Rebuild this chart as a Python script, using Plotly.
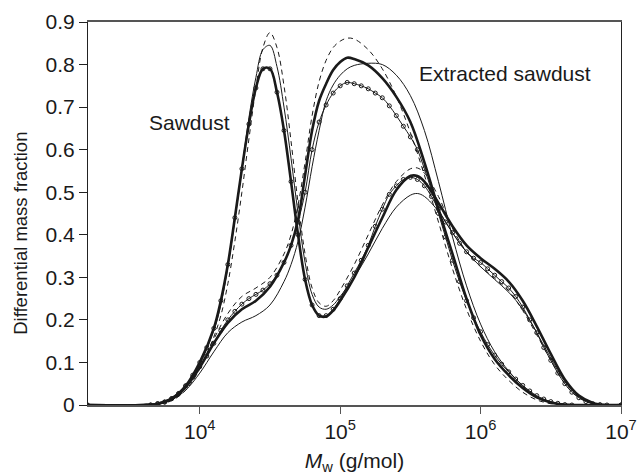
import plotly.graph_objects as go

# ---------------- data (log10 of Mw, differential mass fraction) ----------------
GRID_S = [3.2, 3.6, 3.7, 3.8, 3.9, 4.0, 4.1, 4.15, 4.2, 4.25, 4.3, 4.35, 4.4, 4.45, 4.5,
          4.55, 4.6, 4.65, 4.7, 4.75, 4.8, 4.85, 4.9, 4.95, 5.0, 5.1, 5.2, 5.3, 5.4, 5.5,
          5.55, 5.6, 5.7, 5.8, 5.9, 6.0, 6.1, 6.2, 6.3, 6.4, 6.5, 6.6, 6.7, 6.8, 6.9, 7.0]

saw_thin = [0, 0, 0.002, 0.012, 0.04, 0.095, 0.175, 0.235, 0.325, 0.435, 0.555, 0.675, 0.77,
            0.835, 0.845, 0.795, 0.7, 0.58, 0.45, 0.335, 0.26, 0.23, 0.225, 0.235, 0.255, 0.3,
            0.355, 0.415, 0.465, 0.493, 0.497, 0.49, 0.455, 0.405, 0.36, 0.325, 0.295, 0.265,
            0.225, 0.17, 0.11, 0.055, 0.02, 0.005, 0, 0]

saw_dash = [0, 0, 0.002, 0.01, 0.035, 0.085, 0.16, 0.21, 0.285, 0.385, 0.5, 0.625, 0.745,
            0.84, 0.875, 0.84, 0.75, 0.62, 0.475, 0.355, 0.275, 0.24, 0.232, 0.245, 0.27, 0.33,
            0.4, 0.47, 0.525, 0.555, 0.557, 0.545, 0.49, 0.415, 0.36, 0.325, 0.298, 0.268,
            0.222, 0.165, 0.105, 0.05, 0.018, 0.004, 0, 0]

saw_thick = [0, 0, 0.003, 0.015, 0.045, 0.1, 0.18, 0.245, 0.33, 0.44, 0.555, 0.66, 0.745,
             0.79, 0.79, 0.735, 0.645, 0.525, 0.4, 0.295, 0.235, 0.21, 0.208, 0.222, 0.245, 0.3,
             0.37, 0.44, 0.505, 0.538, 0.538, 0.525, 0.475, 0.42, 0.375, 0.345, 0.32, 0.29,
             0.245, 0.185, 0.12, 0.06, 0.022, 0.005, 0, 0]

GRID_S_CIRC = [3.2, 3.65, 3.7, 3.75, 3.8, 3.85, 3.9, 3.95, 4.0, 4.05, 4.1, 4.15, 4.2, 4.25, 4.3,
               4.35, 4.4, 4.45, 4.5, 4.55, 4.6, 4.65, 4.7, 4.75, 4.8, 4.85, 4.9, 4.95, 5.0, 5.05,
               5.1, 5.15, 5.2, 5.25, 5.3, 5.35, 5.4, 5.45, 5.5, 5.55, 5.6, 5.65, 5.7, 5.75, 5.8,
               5.85, 5.9, 5.95, 6.0, 6.05, 6.1, 6.15, 6.2, 6.25, 6.3, 6.35, 6.4, 6.45, 6.5, 6.55,
               6.6, 6.65, 6.7, 6.75, 6.8, 6.85, 6.9, 7.0]
saw_circ = [0, 0, 0.003, 0.007, 0.015, 0.027, 0.045, 0.07, 0.1, 0.135, 0.18, 0.245, 0.33, 0.44,
            0.555, 0.66, 0.745, 0.79, 0.79, 0.735, 0.645, 0.525, 0.4, 0.295, 0.235, 0.21, 0.21,
            0.225, 0.25, 0.28, 0.31, 0.34, 0.375, 0.42, 0.46, 0.495, 0.515, 0.53, 0.535, 0.53,
            0.515, 0.49, 0.46, 0.43, 0.405, 0.38, 0.36, 0.345, 0.335, 0.32, 0.305, 0.29, 0.275,
            0.255, 0.23, 0.2, 0.17, 0.135, 0.105, 0.075, 0.05, 0.03, 0.017, 0.008, 0.003, 0.001,
            0, 0]

GRID_E = [3.2, 3.6, 3.7, 3.8, 3.9, 4.0, 4.1, 4.2, 4.3, 4.4, 4.5, 4.6, 4.65, 4.7, 4.75, 4.8,
          4.85, 4.9, 4.95, 5.0, 5.05, 5.1, 5.2, 5.3, 5.4, 5.5, 5.6, 5.7, 5.8, 5.9, 6.0, 6.1,
          6.2, 6.3, 6.4, 6.5, 6.6, 6.7, 7.0]

ext_thick = [0, 0, 0.003, 0.015, 0.042, 0.088, 0.145, 0.193, 0.225, 0.245, 0.278, 0.335, 0.375,
             0.435, 0.54, 0.645, 0.715, 0.755, 0.787, 0.806, 0.816, 0.813, 0.798, 0.768, 0.724,
             0.665, 0.57, 0.46, 0.355, 0.25, 0.165, 0.108, 0.07, 0.04, 0.018, 0.006, 0.001, 0, 0]

ext_thin = [0, 0, 0.002, 0.012, 0.035, 0.075, 0.125, 0.17, 0.195, 0.21, 0.235, 0.29, 0.33,
            0.385, 0.465, 0.56, 0.645, 0.715, 0.752, 0.775, 0.79, 0.798, 0.803, 0.8, 0.775,
            0.727, 0.645, 0.525, 0.395, 0.28, 0.19, 0.125, 0.08, 0.045, 0.02, 0.007, 0.001, 0, 0]

ext_dash = [0, 0, 0.002, 0.012, 0.04, 0.09, 0.155, 0.215, 0.255, 0.275, 0.3, 0.355, 0.4, 0.47,
            0.57, 0.68, 0.76, 0.81, 0.84, 0.855, 0.862, 0.86, 0.835, 0.79, 0.725, 0.64, 0.54,
            0.43, 0.32, 0.225, 0.15, 0.095, 0.058, 0.03, 0.012, 0.003, 0, 0, 0]

GRID_E_CIRC = [3.2, 3.65, 3.7, 3.75, 3.8, 3.85, 3.9, 3.95, 4.0, 4.05, 4.1, 4.15, 4.2, 4.25, 4.3,
               4.35, 4.4, 4.45, 4.5, 4.55, 4.6, 4.65, 4.7, 4.75, 4.8, 4.85, 4.9, 4.95, 5.0, 5.05,
               5.1, 5.15, 5.2, 5.25, 5.3, 5.35, 5.4, 5.45, 5.5, 5.55, 5.6, 5.65, 5.7, 5.75, 5.8,
               5.85, 5.9, 5.95, 6.0, 6.05, 6.1, 6.15, 6.2, 6.25, 6.3, 6.35, 6.4, 6.45, 6.5, 6.55,
               6.6, 6.65, 7.0]
ext_circ = [0, 0, 0.003, 0.007, 0.015, 0.027, 0.045, 0.065, 0.09, 0.115, 0.145, 0.175, 0.2,
            0.22, 0.237, 0.25, 0.26, 0.27, 0.285, 0.305, 0.335, 0.375, 0.43, 0.5, 0.6, 0.665,
            0.705, 0.733, 0.75, 0.758, 0.755, 0.75, 0.743, 0.733, 0.722, 0.703, 0.68, 0.655,
            0.63, 0.6, 0.555, 0.505, 0.45, 0.395, 0.34, 0.29, 0.245, 0.205, 0.172, 0.142,
            0.117, 0.096, 0.078, 0.061, 0.046, 0.033, 0.022, 0.014, 0.008, 0.004, 0.001, 0, 0]

X_TICKS = [1e4, 1e5, 1e6, 1e7]
X_TICK_TEXT = ["10<sup>4</sup>", "10<sup>5</sup>", "10<sup>6</sup>", "10<sup>7</sup>"]
Y_TICKS = [0, 0.1, 0.2, 0.3, 0.4, 0.5, 0.6, 0.7, 0.8, 0.9]
Y_TICK_TEXT = ["0", "0.1", "0.2", "0.3", "0.4", "0.5", "0.6", "0.7", "0.8", "0.9"]


def mw(grid):
    return [10 ** g for g in grid]


FONT = "Liberation Sans, Arial, sans-serif"
INK = "#1a1a1a"

fig = go.Figure()

# Sawdust group
fig.add_trace(go.Scatter(x=mw(GRID_S), y=saw_thin, mode="lines", line_shape="spline",
                         line=dict(color=INK, width=1)))
fig.add_trace(go.Scatter(x=mw(GRID_S), y=saw_dash, mode="lines", line_shape="spline",
                         line=dict(color=INK, width=1, dash="5px,4px")))
fig.add_trace(go.Scatter(x=mw(GRID_S), y=saw_thick, mode="lines", line_shape="spline",
                         line=dict(color=INK, width=2.6)))
fig.add_trace(go.Scatter(x=mw(GRID_S_CIRC), y=saw_circ, mode="lines+markers", line_shape="spline",
                         line=dict(color=INK, width=1),
                         marker=dict(symbol="circle-open", size=4, color=INK, line=dict(width=1))))

# Extracted sawdust group
fig.add_trace(go.Scatter(x=mw(GRID_E), y=ext_thin, mode="lines", line_shape="spline",
                         line=dict(color=INK, width=1)))
fig.add_trace(go.Scatter(x=mw(GRID_E), y=ext_dash, mode="lines", line_shape="spline",
                         line=dict(color=INK, width=1, dash="5px,4px")))
fig.add_trace(go.Scatter(x=mw(GRID_E), y=ext_thick, mode="lines", line_shape="spline",
                         line=dict(color=INK, width=2.6)))
fig.add_trace(go.Scatter(x=mw(GRID_E_CIRC), y=ext_circ, mode="lines+markers", line_shape="spline",
                         line=dict(color=INK, width=1),
                         marker=dict(symbol="circle-open", size=4, color=INK, line=dict(width=1))))

fig.add_annotation(x=4.0 + (190 - 200) / 140.5, y=0.665, xref="x", yref="y", text="Sawdust",
                   showarrow=False, font=dict(family=FONT, size=21, color=INK))
fig.add_annotation(x=4.0 + (505 - 200) / 140.5, y=0.78, xref="x", yref="y",
                   text="Extracted sawdust", showarrow=False,
                   font=dict(family=FONT, size=21, color=INK))
# y-axis title
fig.add_annotation(x=-0.128, y=0.449, xref="paper", yref="paper", textangle=-90,
                   text="Differential mass fraction", showarrow=False,
                   xanchor="center", yanchor="middle",
                   font=dict(family=FONT, size=18.5, color=INK))

fig.update_layout(
    width=637, height=476,
    margin=dict(l=88, r=16, t=22, b=71),
    paper_bgcolor="white", plot_bgcolor="white",
    showlegend=False,
    font=dict(family=FONT, size=21, color=INK),
    xaxis=dict(type="log", range=[3.204, 7.0], tickvals=X_TICKS, ticktext=X_TICK_TEXT,
               ticks="outside", ticklen=7, tickwidth=1, tickcolor="#555",
               showline=True, linecolor="#555", linewidth=2, mirror=True,
               showgrid=False, zeroline=False, automargin=False,
               title=dict(text="<i>M</i><sub>w</sub> (g/mol)", standoff=11,
                          font=dict(family=FONT, size=21, color=INK)),
               tickfont=dict(family=FONT, size=21, color=INK)),
    yaxis=dict(range=[0, 0.9], tickvals=Y_TICKS, ticktext=Y_TICK_TEXT,
               ticks="outside", ticklen=8, tickwidth=1, tickcolor="#222",
               showline=True, linecolor="#222", linewidth=1, mirror=True,
               showgrid=False, zeroline=False, automargin=False,
               tickfont=dict(family=FONT, size=21, color=INK)),
)

fig.write_html("out.html")
